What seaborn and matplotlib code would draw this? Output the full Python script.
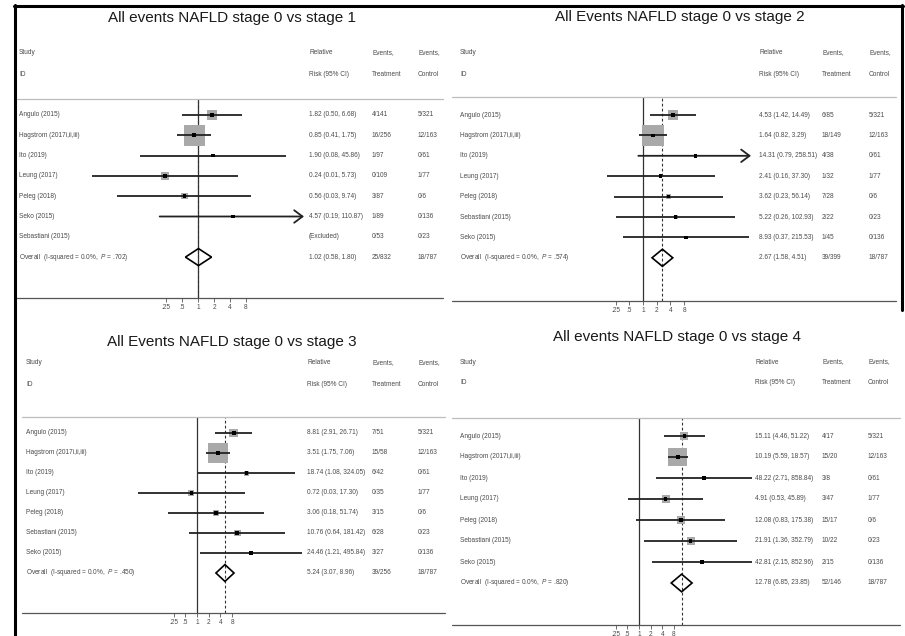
import numpy as np
import pandas as pd
import matplotlib
matplotlib.use("Agg")
import matplotlib.pyplot as plt
import matplotlib.transforms as mtransforms
from matplotlib.lines import Line2D
from matplotlib.ticker import NullLocator
import seaborn as sns

# ---------------------------------------------------------------- data
tick_values = [0.25, 0.5, 1, 2, 4, 8]
tick_labels = [".25", ".5", "1", "2", "4", "8"]

stage1_title = "All events NAFLD stage 0 vs stage 1"
stage1_studies = ["Angulo (2015)", "Hagstrom (2017i,ii,iii)", "Ito (2019)", "Leung (2017)",
                  "Peleg (2018)", "Seko (2015)", "Sebastiani (2015)"]
stage1_rr = [1.82, 0.85, 1.90, 0.24, 0.56, 4.57, np.nan]
stage1_lo = [0.50, 0.41, 0.08, 0.01, 0.03, 0.19, np.nan]
stage1_hi = [6.68, 1.75, 45.86, 5.73, 9.74, 110.87, np.nan]
stage1_weight = [14.1, 69.7, 0.7, 8.5, 6.3, 0.7, 0.0]
stage1_treat = ["4/141", "16/256", "1/97", "0/109", "3/87", "1/89", "0/53"]
stage1_ctrl = ["5/321", "12/163", "0/61", "1/77", "0/6", "0/136", "0/23"]
stage1_overall = [1.02, 0.58, 1.80]
stage1_overall_events = ["25/832", "18/787"]
stage1_i2, stage1_p = 0.0, ".702"

stage2_title = "All Events NAFLD stage 0 vs stage 2"
stage2_studies = ["Angulo (2015)", "Hagstrom (2017i,ii,iii)", "Ito (2019)", "Leung (2017)",
                  "Peleg (2018)", "Sebastiani (2015)", "Seko (2015)"]
stage2_rr = [4.53, 1.64, 14.31, 2.41, 3.62, 5.22, 8.93]
stage2_lo = [1.42, 0.82, 0.79, 0.16, 0.23, 0.26, 0.37]
stage2_hi = [14.49, 3.29, 258.51, 37.30, 56.14, 102.93, 215.53]
stage2_weight = [13.9, 73.8, 2.2, 2.2, 5.0, 2.2, 0.6]
stage2_treat = ["6/85", "18/149", "4/38", "1/32", "7/28", "2/22", "1/45"]
stage2_ctrl = ["5/321", "12/163", "0/61", "1/77", "0/6", "0/23", "0/136"]
stage2_overall = [2.67, 1.58, 4.51]
stage2_overall_events = ["39/399", "18/787"]
stage2_i2, stage2_p = 0.0, ".574"

stage3_title = "All Events NAFLD stage 0 vs stage 3"
stage3_studies = stage2_studies
stage3_rr = [8.81, 3.51, 18.74, 0.72, 3.06, 10.76, 24.46]
stage3_lo = [2.91, 1.75, 1.08, 0.03, 0.18, 0.64, 1.21]
stage3_hi = [26.71, 7.06, 324.05, 17.30, 51.74, 181.42, 495.84]
stage3_weight = [12.8, 63.4, 4.0, 5.7, 5.7, 7.8, 0.6]
stage3_treat = ["7/51", "15/58", "6/42", "0/35", "3/15", "6/28", "3/27"]
stage3_ctrl = ["5/321", "12/163", "0/61", "1/77", "0/6", "0/23", "0/136"]
stage3_overall = [5.24, 3.07, 8.96]
stage3_overall_events = ["39/256", "18/787"]
stage3_i2, stage3_p = 0.0, ".450"

stage4_title = "All events NAFLD stage 0 vs stage 4"
stage4_studies = stage2_studies
stage4_rr = [15.11, 10.19, 48.22, 4.91, 12.08, 21.91, 42.81]
stage4_lo = [4.46, 5.59, 2.71, 0.53, 0.83, 1.36, 2.15]
stage4_hi = [51.22, 18.57, 858.84, 45.89, 175.38, 352.79, 852.96]
stage4_weight = [10.1, 56.9, 1.4, 10.1, 10.1, 10.1, 1.4]
stage4_treat = ["4/17", "15/20", "3/8", "3/47", "15/17", "10/22", "2/15"]
stage4_ctrl = ["5/321", "12/163", "0/61", "1/77", "0/6", "0/23", "0/136"]
stage4_overall = [12.78, 6.85, 23.85]
stage4_overall_events = ["52/146", "18/787"]
stage4_i2, stage4_p = 0.0, ".820"


def panel(title, studies, rr, lo, hi, weight, treat, ctrl, overall, overall_events, i2, p):
    return dict(title=title, studies=studies, rr=rr, lo=lo, hi=hi, weight=weight,
                treat=treat, ctrl=ctrl, overall=overall, overall_events=overall_events,
                i2=i2, p=p)


panels = [
    panel(stage1_title, stage1_studies, stage1_rr, stage1_lo, stage1_hi, stage1_weight,
          stage1_treat, stage1_ctrl, stage1_overall, stage1_overall_events, stage1_i2, stage1_p),
    panel(stage2_title, stage2_studies, stage2_rr, stage2_lo, stage2_hi, stage2_weight,
          stage2_treat, stage2_ctrl, stage2_overall, stage2_overall_events, stage2_i2, stage2_p),
    panel(stage3_title, stage3_studies, stage3_rr, stage3_lo, stage3_hi, stage3_weight,
          stage3_treat, stage3_ctrl, stage3_overall, stage3_overall_events, stage3_i2, stage3_p),
    panel(stage4_title, stage4_studies, stage4_rr, stage4_lo, stage4_hi, stage4_weight,
          stage4_treat, stage4_ctrl, stage4_overall, stage4_overall_events, stage4_i2, stage4_p),
]

# ---------------------------------------------------------------- layout (pixels, top-left origin)
layouts = [
    dict(title_x=232, title_y=18, hdr1_y=53, hdr2_y=74, head_y=99, axis_y=298,
         row0=115, dy=20.3, line_x0=17, line_x1=443, study_x=19, ci_x=309, trt_x=372, ctl_x=418,
         ax_x0=85, ax_x1=304, one_x=198, ppd=16.0),
    dict(title_x=680, title_y=17, hdr1_y=53, hdr2_y=74, head_y=97, axis_y=301,
         row0=115, dy=20.4, line_x0=452, line_x1=896, study_x=460, ci_x=759, trt_x=822, ctl_x=869,
         ax_x0=600, ax_x1=751, one_x=643, ppd=13.7),
    dict(title_x=232, title_y=342, hdr1_y=363, hdr2_y=385, head_y=417, axis_y=613,
         row0=433, dy=20.0, line_x0=22, line_x1=445, study_x=26, ci_x=307, trt_x=372, ctl_x=418,
         ax_x0=130, ax_x1=304, one_x=197, ppd=11.7),
    dict(title_x=677, title_y=337, hdr1_y=362, hdr2_y=383, head_y=418, axis_y=625,
         row0=436, dy=21.0, line_x0=452, line_x1=900, study_x=460, ci_x=755, trt_x=822, ctl_x=868,
         ax_x0=600, ax_x1=753, one_x=639, ppd=11.6),
]

sns.set_theme(style="white")
plt.rcParams["font.family"] = ["Liberation Sans", "DejaVu Sans"]
plt.rcParams["mathtext.fontset"] = "custom"
plt.rcParams["mathtext.rm"] = "Liberation Sans"
plt.rcParams["mathtext.it"] = "Liberation Sans:italic"

W, H = 905, 636
fig = plt.figure(figsize=(W / 100, H / 100), dpi=100)
fig.patch.set_facecolor("white")
pix = mtransforms.Affine2D().scale(1 / W, -1 / H).translate(0, 1) + fig.transFigure

TXT = "#4a4a4a"
SMALL = 4.7


def px_to_pt(v):
    return v * 72 / 100


def draw_panel(d, g):
    n = len(d["studies"])
    ax = fig.add_axes([g["ax_x0"] / W, 1 - g["axis_y"] / H,
                       (g["ax_x1"] - g["ax_x0"]) / W, (g["axis_y"] - g["head_y"]) / H])
    ax.set_xscale("log", base=2)
    xmin = 2 ** ((g["ax_x0"] - g["one_x"]) / g["ppd"])
    xmax = 2 ** ((g["ax_x1"] - g["one_x"]) / g["ppd"])

    rr = np.array(d["rr"], float)
    lo = np.array(d["lo"], float)
    hi = np.array(d["hi"], float)
    wt = np.array(d["weight"], float)
    rows = np.arange(n)
    o_rr, o_lo, o_hi = d["overall"]

    # reference lines: null effect and pooled estimate
    ax.axvline(1, color="#333333", lw=0.9, zorder=1)
    ax.axvline(o_rr, color="#333333", lw=0.8, ls=(0, (2.5, 2)), zorder=1)

    # study weight boxes
    ok = ~np.isnan(rr)
    df = pd.DataFrame({"rr": rr[ok], "row": rows[ok],
                       "area": px_to_pt(2.5 * np.sqrt(wt[ok])) ** 2})
    sns.scatterplot(data=df, x="rr", y="row", s=df["area"].values, marker="s",
                    color="#a9a9a9", edgecolor="none", linewidth=0, ax=ax,
                    legend=False, zorder=2)

    # confidence intervals, with an arrow where they run past the axis
    for l, h, y in zip(lo[ok], hi[ok], rows[ok]):
        if h > xmax:
            ax.annotate("", xy=(xmax, y), xytext=(l, y),
                        arrowprops=dict(arrowstyle="->,head_length=0.6,head_width=0.45",
                                        lw=1.3, color="#222222", shrinkA=0, shrinkB=0,
                                        mutation_scale=10), zorder=3)
        else:
            ax.hlines(y, l, h, color="#222222", lw=1.3, zorder=3)

    # point estimates
    sns.scatterplot(x=rr[ok], y=rows[ok], s=7, marker="s", color="black",
                    edgecolor="none", linewidth=0, ax=ax, legend=False, zorder=4)

    # pooled diamond
    yo = n
    hh = 0.42
    ax.fill([o_lo, o_rr, o_hi, o_rr, o_lo], [yo, yo - hh, yo, yo + hh, yo],
            facecolor="none", edgecolor="black", lw=1.2, zorder=3)

    ax.set_xlim(xmin, xmax)
    ax.set_ylim((g["axis_y"] - g["row0"]) / g["dy"], (g["head_y"] - g["row0"]) / g["dy"])
    ax.patch.set_alpha(0)
    for s in ax.spines.values():
        s.set_visible(False)
    ax.grid(False)
    ax.set_yticks([])
    ax.set_xticks(tick_values)
    ax.set_xticklabels(tick_labels)
    ax.xaxis.set_minor_locator(NullLocator())
    ax.tick_params(axis="x", bottom=True, length=3.2, width=0.6, color="#555555",
                   labelsize=SMALL, pad=1, labelcolor=TXT)
    ax.set_xlabel("")
    ax.set_ylabel("")

    # text columns
    tx = mtransforms.blended_transform_factory(pix, ax.transData)
    kw = dict(transform=tx, va="center", ha="left", fontsize=SMALL, color=TXT, clip_on=False)
    for i in range(n):
        fig.text(g["study_x"], i, d["studies"][i], **kw)
        if np.isnan(rr[i]):
            ci = "(Excluded)"
        else:
            ci = f"{rr[i]:.2f} ({lo[i]:.2f}, {hi[i]:.2f})"
        fig.text(g["ci_x"], i, ci, **kw)
        fig.text(g["trt_x"], i, d["treat"][i], **kw)
        fig.text(g["ctl_x"], i, d["ctrl"][i], **kw)
    fig.text(g["study_x"], n,
             f"Overall  (I-squared = {d['i2']:.1f}%,  $\\mathit{{P}}$ = {d['p']})", **kw)
    fig.text(g["ci_x"], n, f"{o_rr:.2f} ({o_lo:.2f}, {o_hi:.2f})", **kw)
    fig.text(g["trt_x"], n, d["overall_events"][0], **kw)
    fig.text(g["ctl_x"], n, d["overall_events"][1], **kw)

    # column headers
    hk = dict(transform=pix, va="center", ha="left", fontsize=SMALL, color=TXT)
    fig.text(g["study_x"], g["hdr1_y"], "Study", **hk)
    fig.text(g["study_x"], g["hdr2_y"], "ID", **hk)
    fig.text(g["ci_x"], g["hdr1_y"], "Relative", **hk)
    fig.text(g["ci_x"], g["hdr2_y"], "Risk (95% CI)", **hk)
    fig.text(g["trt_x"], g["hdr1_y"], "Events,", **hk)
    fig.text(g["trt_x"], g["hdr2_y"], "Treatment", **hk)
    fig.text(g["ctl_x"], g["hdr1_y"], "Events,", **hk)
    fig.text(g["ctl_x"], g["hdr2_y"], "Control", **hk)

    fig.text(g["title_x"], g["title_y"], d["title"], transform=pix, ha="center",
             va="center", fontsize=11, color="#1a1a1a")

    fig.add_artist(Line2D([g["line_x0"], g["line_x1"]], [g["head_y"]] * 2,
                          transform=pix, color="#bdbdbd", lw=0.9))
    fig.add_artist(Line2D([g["line_x0"], g["line_x1"]], [g["axis_y"]] * 2,
                          transform=pix, color="#555555", lw=0.9))


for d, g in zip(panels, layouts):
    draw_panel(d, g)

# outer frame
fig.add_artist(Line2D([15, 15], [4.5, 636], transform=pix, color="black", lw=2.2))
fig.add_artist(Line2D([14, 903], [5.5, 5.5], transform=pix, color="black", lw=2.2))
fig.add_artist(Line2D([902, 902], [4.5, 310], transform=pix, color="black", lw=2.2))

fig.savefig("out.png", dpi=100, facecolor="white")
